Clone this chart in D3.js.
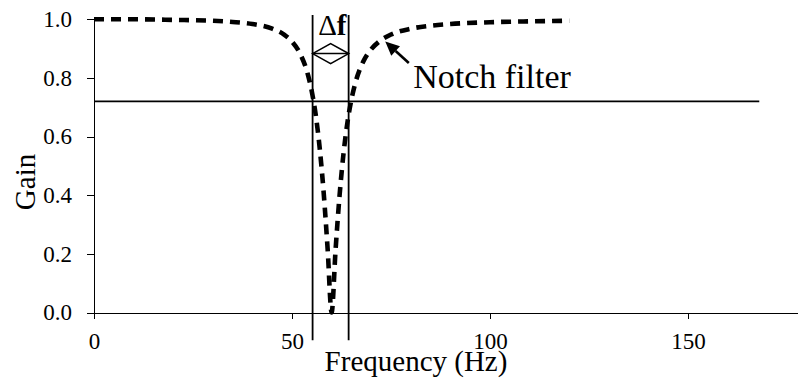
<!DOCTYPE html>
<html>
<head>
<meta charset="utf-8">
<script src="https://cdnjs.cloudflare.com/ajax/libs/d3/7.8.5/d3.min.js"></script>
<style>
  html, body { margin: 0; padding: 0; background: #fff; }
  svg { display: block; }
  text { font-family: "Times New Roman", "Liberation Serif", serif; fill: #000; }
  .axis path, .axis line { stroke: #000; stroke-width: 1; shape-rendering: crispEdges; }
  .axis text { font-size: 23px; font-family: "Times New Roman", "Liberation Serif", serif; }
</style>
</head>
<body>
<svg id="chart" width="798" height="381"></svg>
<script>
// notch filter response
var freq = [0, 10, 20, 30, 35, 40, 45, 48, 50, 52, 54, 55, 56, 57, 58, 59, 60,
            61, 62, 63, 64, 65, 66, 68, 70, 72, 75, 80, 85, 90, 100, 110, 120];
var gain = [1.0, 1.0, 0.998, 0.995, 0.991, 0.984, 0.968, 0.948, 0.924, 0.884, 0.812, 0.754, 0.673, 0.560, 0.408, 0.216, 0.0,
            0.213, 0.397, 0.541, 0.648, 0.726, 0.783, 0.856, 0.898, 0.924, 0.948, 0.968, 0.978, 0.984, 0.990, 0.993, 0.995];

var xTicks = [0, 50, 100, 150];
var yTicks = [0, 0.2, 0.4, 0.6, 0.8, 1.0];

var threshold = 0.72;      // horizontal line
var thresholdEnd = 168;    // Hz where that line stops
var cutoffs = [55.2, 64.3];
var cutoffSpan = [-0.095, 1.015];

var svg = d3.select('#chart');

var x = d3.scaleLinear().domain([0, 180]).range([94, 94 + 180 * 3.96]);
var y = d3.scaleLinear().domain([0, 1]).range([312.5, 19.3]);

// axes
svg.append('g')
    .attr('class', 'axis')
    .attr('transform', 'translate(0,' + y(0) + ')')
    .call(d3.axisBottom(x).tickValues(xTicks).tickSizeInner(6).tickSizeOuter(0).tickPadding(14)
        .tickFormat(d3.format('d')));

svg.append('g')
    .attr('class', 'axis')
    .attr('transform', 'translate(' + x(0) + ',0)')
    .call(d3.axisLeft(y).tickValues(yTicks).tickSizeInner(7).tickSizeOuter(0).tickPadding(15)
        .tickFormat(d3.format('.1f')));

svg.selectAll('.axis .domain').attr('stroke-width', 1.2);

// axis titles
svg.append('text')
    .attr('x', 416).attr('y', 371)
    .attr('text-anchor', 'middle')
    .style('font-size', '29px')
    .text('Frequency (Hz)');

svg.append('text')
    .attr('transform', 'translate(35,182) rotate(-90)')
    .attr('text-anchor', 'middle')
    .style('font-size', '29px')
    .text('Gain');

// threshold line
svg.append('line')
    .attr('x1', x(0)).attr('x2', x(thresholdEnd))
    .attr('y1', y(threshold)).attr('y2', y(threshold))
    .attr('stroke', '#000').attr('stroke-width', 1.8);

// cutoff verticals
svg.selectAll('.cutoff')
    .data(cutoffs)
    .enter().append('line')
    .attr('class', 'cutoff')
    .attr('x1', function(d) { return x(d); })
    .attr('x2', function(d) { return x(d); })
    .attr('y1', y(cutoffSpan[0])).attr('y2', y(cutoffSpan[1]))
    .attr('stroke', '#000').attr('stroke-width', 1.8);

// notch curve
var pts = freq.map(function(f, i) { return [f, gain[i]]; });
var line = d3.line()
    .x(function(d) { return x(d[0]); })
    .y(function(d) { return y(d[1]); })
    .curve(d3.curveMonotoneX);

svg.append('path')
    .datum(pts)
    .attr('d', line)
    .attr('fill', 'none')
    .attr('stroke', '#000')
    .attr('stroke-width', 4.6)
    .attr('stroke-dasharray', '10,7');

// delta f annotation
var dfY = y(0.883);
var xl = x(cutoffs[0]), xr = x(cutoffs[1]), xm = (xl + xr) / 2;
svg.append('line')
    .attr('x1', xl).attr('x2', xr).attr('y1', dfY).attr('y2', dfY)
    .attr('stroke', '#000').attr('stroke-width', 1.5);
svg.append('path')
    .attr('d', 'M' + xl + ',' + dfY + 'L' + xm + ',' + (dfY - 10) + 'L' + xr + ',' + dfY +
               'L' + xm + ',' + (dfY + 10) + 'Z')
    .attr('fill', 'none').attr('stroke', '#000').attr('stroke-width', 1.6);
svg.append('text')
    .attr('x', x(56.6)).attr('y', y(0.946))
    .style('font-size', '29px')
    .text('\u0394')
    .append('tspan').style('font-weight', 'bold').text('f');

// notch filter label + arrow
svg.append('text')
    .attr('x', x(80.6)).attr('y', y(0.766))
    .style('font-size', '34px')
    .text('Notch filter');

var tail = [x(79.5), y(0.851)], tip = [x(73.55), y(0.924)];
var ang = Math.atan2(tip[1] - tail[1], tip[0] - tail[0]);
var hl = 14, hw = 6.5;
var base = [tip[0] - hl * Math.cos(ang), tip[1] - hl * Math.sin(ang)];
svg.append('line')
    .attr('x1', tail[0]).attr('y1', tail[1])
    .attr('x2', base[0]).attr('y2', base[1])
    .attr('stroke', '#000').attr('stroke-width', 2.6);
svg.append('path')
    .attr('d', 'M' + tip[0] + ',' + tip[1] +
        'L' + (base[0] + hw * Math.sin(ang)) + ',' + (base[1] - hw * Math.cos(ang)) +
        'L' + (base[0] - hw * Math.sin(ang)) + ',' + (base[1] + hw * Math.cos(ang)) + 'Z')
    .attr('fill', '#000');
</script>
</body>
</html>
